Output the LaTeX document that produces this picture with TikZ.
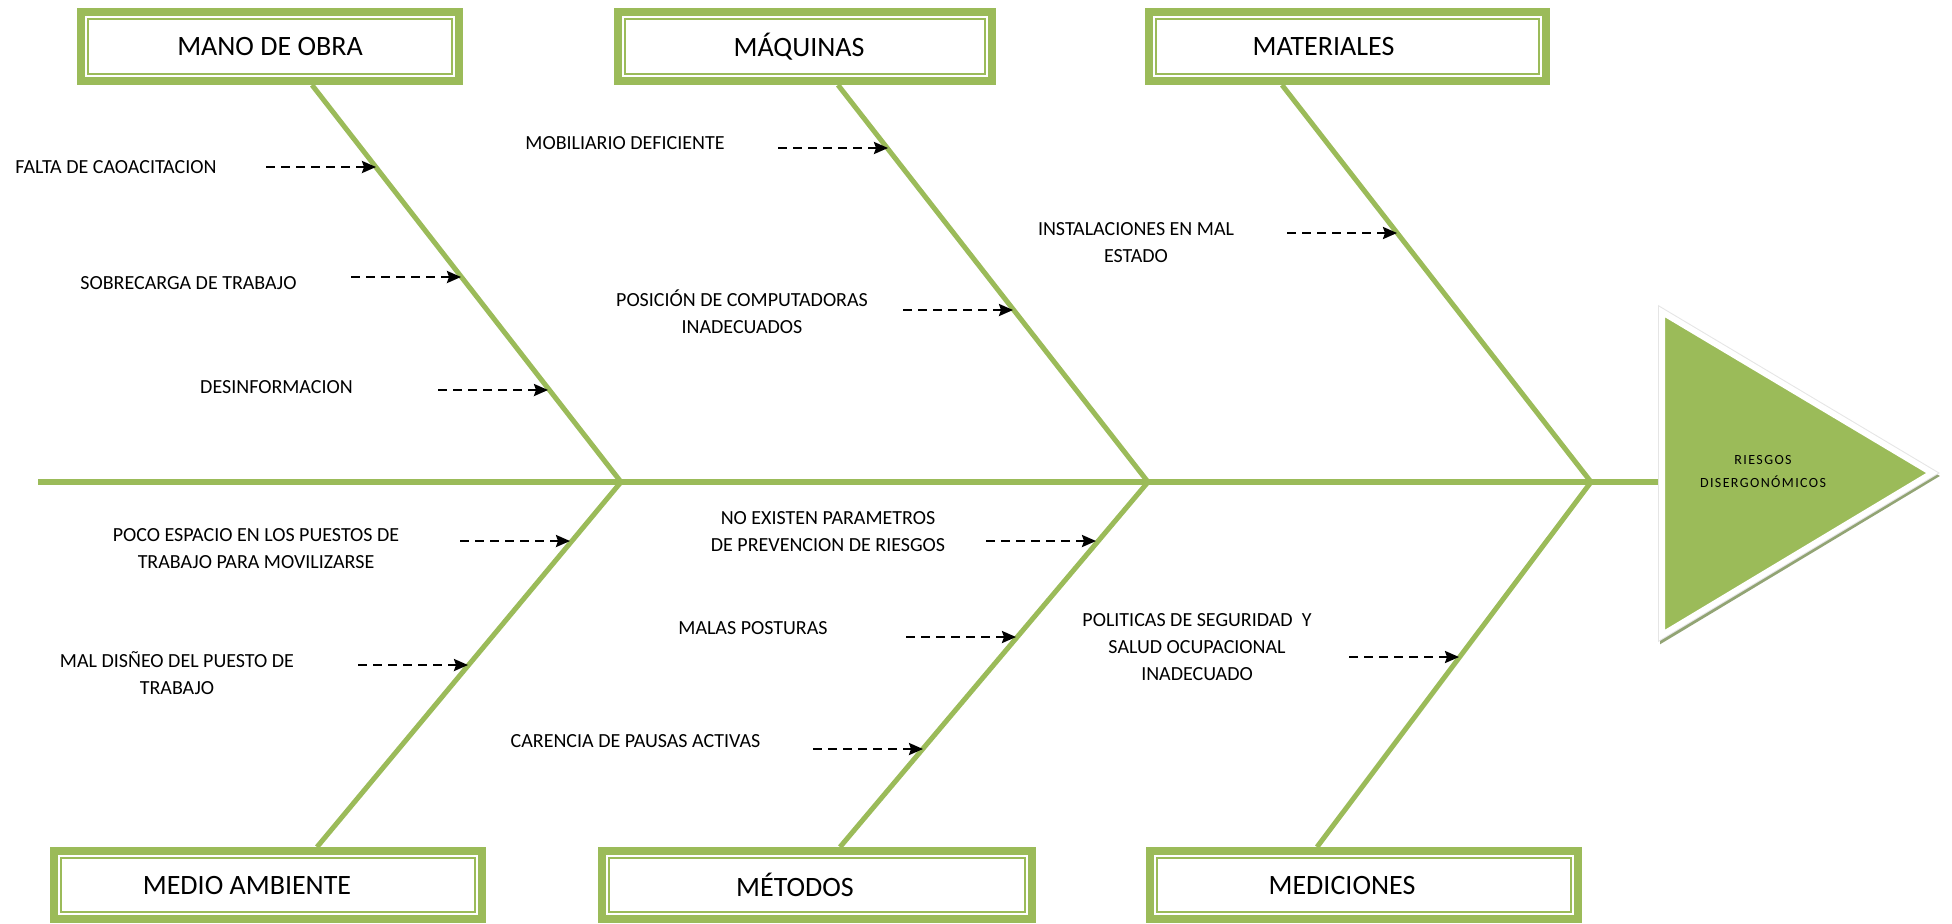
\documentclass[tikz,border=0pt]{standalone}
\usepackage{fontspec}
\setmainfont{Carlito}
\newfontfamily\headfont[LetterSpace=10]{Carlito}
\usepackage{tikz}
\usetikzlibrary{arrows.meta,positioning}
\definecolor{leafgreen}{RGB}{155,187,89}
\definecolor{shadegreen}{RGB}{146,164,116}

\begin{document}
\begin{tikzpicture}[
    x=0.5pt, y=-0.5pt,
    catbox/.style={rectangle, draw=leafgreen, fill=white, line width=4pt, minimum height=34.5pt, inner sep=0pt, font=\fontsize{14}{16}\selectfont},
    inframe/.style={draw=leafgreen, line width=1pt},
    bone/.style={draw=leafgreen, line width=2.5pt},
    spine/.style={draw=leafgreen, line width=3pt},
    cause/.style={font=\fontsize{10}{13.5}\selectfont, align=center, inner sep=0pt},
    arrow/.style={-{Stealth[length=7pt, width=6pt, inset=1pt]}, line width=1.2pt, dash pattern=on 4.5pt off 3pt}
]
\fill[white] (0,0) rectangle (1952,921);

% category boxes
\node[catbox, minimum width=189pt] (mano) at (270,46.5) {MANO DE OBRA};
\node[catbox, minimum width=187pt] (maq) at (805,46.5) {MÁQUINAS\hspace*{6pt}};
\node[catbox, minimum width=198.5pt] (mat) at (1347.5,46.5) {MATERIALES\hspace*{24pt}};
\node[catbox, minimum width=214pt, minimum height=34pt] (medio) at (268,885) {MEDIO AMBIENTE\hspace*{21pt}};
\node[catbox, minimum width=215pt, minimum height=34pt] (met) at (817,885) {MÉTODOS\hspace*{22pt}};
\node[catbox, minimum width=214pt, minimum height=34pt] (medic) at (1364,885) {MEDICIONES\hspace*{22pt}};
\foreach \bx in {mano,maq,mat,medio,met,medic}
  \draw[inframe] ([xshift=5.6pt,yshift=-5.6pt]\bx.north west) rectangle ([xshift=-5.6pt,yshift=5.6pt]\bx.south east);

% spine and bones
\coordinate (tail) at (38,482);
\coordinate (head) at (1665,482);
\coordinate (j1) at (621,482);
\coordinate (j2) at (1148,482);
\coordinate (j3) at (1591,482);
\draw[spine] (tail) -- (head);
\draw[bone] ([xshift=21pt]mano.south) -- (j1);
\draw[bone] ([xshift=16.5pt]maq.south) -- (j2);
\draw[bone] ([xshift=-32.75pt]mat.south) -- (j3);
\draw[bone] ([xshift=24.5pt]medio.north) -- (j1);
\draw[bone] ([xshift=11.5pt]met.north) -- (j2);
\draw[bone] ([xshift=-23.5pt]medic.north) -- (j3);

% effect head
\fill[shadegreen, draw=shadegreen, line width=3pt] (1663,316) -- (1663,639) -- (1934,476) -- cycle;
\draw[draw=black!10, line width=4pt] (1662,312) -- (1662,635) -- (1932,473) -- cycle;
\draw[fill=leafgreen, draw=white, line width=3pt] (1662,312) -- (1662,635) -- (1932,473) -- cycle;
\node[font=\headfont\fontsize{7}{11.5}\selectfont, align=center] (efecto) at (1763,471) {RIESGOS\\DISERGONÓMICOS};

% causes
\node[cause] (c1) at (116,167) {FALTA DE CAOACITACION};
\node[cause, anchor=east] (c2) at (297,283) {SOBRECARGA DE TRABAJO};
\node[cause] (c3) at (276.5,387) {DESINFORMACION};
\node[cause] (c4) at (625,143) {MOBILIARIO DEFICIENTE};
\node[cause] (c5) at (742,312) {POSICIÓN DE COMPUTADORAS\\INADECUADOS};
\node[cause] (c6) at (1136,243) {INSTALACIONES EN MAL\\ESTADO};
\node[cause] (c7) at (256,548.5) {POCO ESPACIO EN LOS PUESTOS DE\\TRABAJO PARA MOVILIZARSE};
\node[cause] (c8) at (177,673.5) {MAL DISÑEO DEL PUESTO DE\\TRABAJO};
\node[cause] (c9) at (828,531.5) {NO EXISTEN PARAMETROS\\DE PREVENCION DE RIESGOS};
\node[cause] (c10) at (753,628) {MALAS POSTURAS};
\node[cause] (c11) at (635.5,741) {CARENCIA DE PAUSAS ACTIVAS};
\node[cause] (c12) at (1197,647) {POLITICAS DE SEGURIDAD\ \ Y\\SALUD OCUPACIONAL\\INADECUADO};

\foreach \n/\y/\xa/\xb in {1/167/266/376, 2/277/351/461, 3/390/438/548,
    4/148/778/888, 5/310/903/1013, 6/233/1287/1397,
    7/541/460/570, 8/665/358/468, 9/541/986/1096,
    10/637/906/1016, 11/749/813/923, 12/657/1349/1459} {
  \coordinate (s\n) at (\xa,\y);
  \coordinate (t\n) at (\xb,\y);
  \draw[arrow] (s\n) -- (t\n);
}
\end{tikzpicture}
\end{document}
